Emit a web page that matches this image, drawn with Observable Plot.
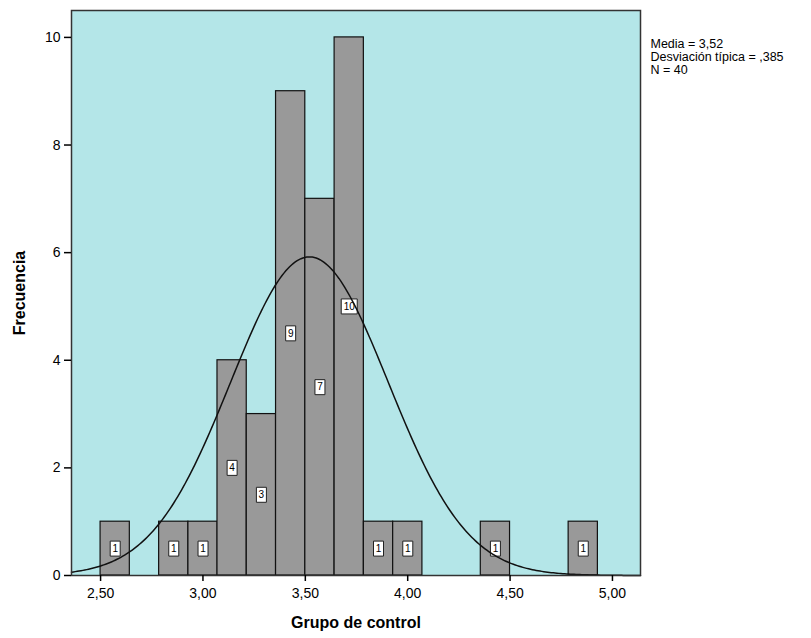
<!DOCTYPE html>
<html><head><meta charset="utf-8">
<script src="https://cdn.jsdelivr.net/npm/d3@7"></script>
<script src="https://cdn.jsdelivr.net/npm/@observablehq/plot@0.6"></script>
<style>body{margin:0;background:#fff} svg{display:block}</style>
</head><body><div id="chart"></div>
<script>
// Histogram data
const binLower = [2.500, 2.786, 2.929, 3.071, 3.214, 3.357, 3.500, 3.643, 3.786, 3.929, 4.357, 4.786];
const counts   = [1,     1,     1,     4,     3,     9,     7,     10,    1,     1,     1,     1];
const binWidth = 1 / 7;
// Fitted normal curve parameters (from the legend)
const mean = 3.52, sd = 0.385, n = 40;
const xTicks = [2.5, 3, 3.5, 4, 4.5, 5];
const yTicks = [0, 2, 4, 6, 8, 10];
const statsLines = ["Media = 3,52", "Desviación típica = ,385", "N = 40"];
const xTitle = "Grupo de control";
const yTitle = "Frecuencia";

const xDomain = [2.358, 5.137];
const bins = binLower.map((x, i) => ({x1: x, x2: x + binWidth, count: counts[i], label: String(counts[i])}));

const curve = d3.range(0, 301).map(i => {
  const x = xDomain[0] + i * (xDomain[1] - xDomain[0]) / 300;
  const z = (x - mean) / sd;
  return {x, y: n * binWidth * Math.exp(-0.5 * z * z) / (sd * Math.sqrt(2 * Math.PI))};
});

const box = (w, h) => ({draw(ctx) { ctx.rect(-w / 2, -h / 2, w, h); }});

const chart = Plot.plot({
  width: 811, height: 638,
  marginLeft: 71, marginRight: 171, marginTop: 10, marginBottom: 63,
  style: {fontFamily: "'Liberation Sans', Arial, sans-serif", fontSize: "14px", background: "#fff", color: "#000"},
  x: {domain: xDomain},
  y: {domain: [0, 10.5]},
  marks: [
    Plot.frame({fill: "#b4e6e8", stroke: null}),
    Plot.rectY(bins, {x1: "x1", x2: "x2", y: "count", fill: "#999999", stroke: "#111", strokeWidth: 1.2, inset: 0}),
    Plot.dot(bins.filter(d => d.label.length === 1), {x: d => d.x1 + binWidth / 2, y: d => d.count / 2, symbol: box(10, 15), fill: "#fff", stroke: "#222", strokeWidth: 1, r: 5}),
    Plot.dot(bins.filter(d => d.label.length > 1), {x: d => d.x1 + binWidth / 2, y: d => d.count / 2, symbol: box(16, 15), fill: "#fff", stroke: "#222", strokeWidth: 1, r: 5}),
    Plot.text(bins, {x: d => d.x1 + binWidth / 2, y: d => d.count / 2, text: "label", fontSize: 10, fill: "#000"}),
    Plot.line(curve, {x: "x", y: "y", stroke: "#111", strokeWidth: 1.5}),
    Plot.frame({stroke: "#333", strokeWidth: 1.5}),
    Plot.axisX({ticks: xTicks, tickFormat: d => d.toFixed(2).replace(".", ","), tickSize: 6, tickPadding: 7, fontSize: 14, label: null, strokeWidth: 1.5}),
    Plot.axisY({ticks: yTicks, tickFormat: d => String(d), tickSize: 7, tickPadding: 4, fontSize: 14, label: null, strokeWidth: 1.5}),
    Plot.text([yTitle], {frameAnchor: "left", dx: -47, rotate: -90, textAnchor: "middle", lineAnchor: "bottom", fontWeight: "bold", fontSize: 16}),
    Plot.text([xTitle], {frameAnchor: "bottom", dy: 52, textAnchor: "middle", lineAnchor: "bottom", fontWeight: "bold", fontSize: 16}),
    Plot.text([statsLines.join("\n")], {frameAnchor: "top-right", dx: 10, dy: 28, textAnchor: "start", lineAnchor: "top", fontSize: 12.5, lineHeight: 1.04})
  ]
});
document.getElementById("chart").appendChild(chart);
</script>
</body></html>
